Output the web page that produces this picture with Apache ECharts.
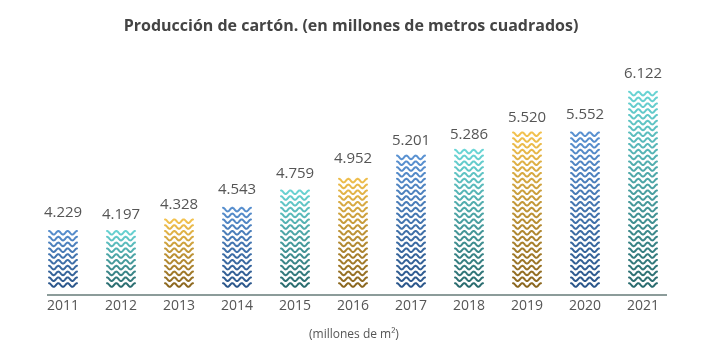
<!DOCTYPE html>
<html lang="es">
<head>
    <meta charset="UTF-8">
    <title>Producción de cartón</title>
    <style>
        *{ margin: 0; padding: 0; }
        body{ background: #fff; }
    </style>
</head>
<body>
<div id="main" style="width: 702px;height: 351px;"></div>
<script src="https://cdn.jsdelivr.net/npm/echarts@6/dist/echarts.min.js"></script>
<script type="text/javascript">
    // datos
    var years = ['2011','2012','2013','2014','2015','2016','2017','2018','2019','2020','2021'];
    var values = [4229, 4197, 4328, 4543, 4759, 4952, 5201, 5286, 5520, 5552, 6122];
    var tones = ['blue','teal','gold','blue','teal','gold','blue','teal','gold','blue','teal'];

    var palette = {
        blue: ['#5a92d2', '#2b568a'],
        teal: ['#6ad6d6', '#2a6b6e'],
        gold: ['#f3c24e', '#8a661f']
    };

    function fmt(v){
        return String(v).replace(/\B(?=(\d{3})+(?!\d))/g, '.');
    }

    var myChart = echarts.init(document.getElementById('main'));

    function renderWaves(params, api){
        var i = api.value(0);
        var v = api.value(1);
        var top = api.coord([i, v]);
        var base = api.coord([i, 3410]);
        var w = 28;
        var x0 = top[0] - w / 2;
        var c = palette[tones[i]];
        var grad = new echarts.graphic.LinearGradient(0, 0, 0, 1, [
            {offset: 0, color: c[0]},
            {offset: 1, color: c[1]}
        ]);
        grad.global = true;
        grad.x = 0; grad.y = top[1]; grad.x2 = 0; grad.y2 = base[1];
        var children = [];
        var gap = 5.8, amp = 1.8, period = 9.33;
        for (var y = base[1] - 2; y >= top[1] + 1.5; y -= gap) {
            var pts = [];
            for (var x = 0; x <= w; x += 0.5) {
                pts.push([x0 + x, y - amp * Math.cos((x / period) * 2 * Math.PI)]);
            }
            children.push({
                type: 'polyline',
                shape: {points: pts, smooth: 0},
                style: {stroke: grad, lineWidth: 2, fill: null, lineJoin: 'round', lineCap: 'round'}
            });
        }
        children.push({
            type: 'text',
            style: {
                text: fmt(v),
                x: top[0],
                y: top[1] - 7,
                align: 'center',
                verticalAlign: 'bottom',
                fill: '#555',
                font: '15px "Open Sans"'
            }
        });
        return {type: 'group', children: children};
    }

    var seriesData = values.map(function(v, i){ return [i, v]; });

    myChart.setOption({
        animation: false,
        title: {
            text: 'Producción de cartón. (en millones de metros cuadrados)',
            left: 'center',
            top: 13,
            textStyle: {
                fontFamily: 'Open Sans',
                fontSize: 16,
                fontWeight: 'bold',
                color: '#444'
            }
        },
        grid: {
            left: 34,
            right: 30,
            top: 60,
            bottom: 64
        },
        xAxis: {
            type: 'category',
            data: years,
            offset: 8,
            axisLine: {show: false},
            axisTick: {show: false},
            axisLabel: {
                margin: 4,
                fontFamily: 'Open Sans',
                fontSize: 14,
                color: '#555'
            }
        },
        yAxis: {
            type: 'value',
            min: 3410,
            max: 6500,
            show: false
        },
        graphic: [
            {
                type: 'line',
                shape: {x1: 47, y1: 295, x2: 667, y2: 295},
                style: {stroke: '#8c9c9a', lineWidth: 2}
            },
            {
                type: 'text',
                left: 309,
                top: 329,
                style: {
                    text: '(millones de m²)',
                    fill: '#555',
                    font: '12px "Open Sans"'
                }
            }
        ],
        series: [
            {
                type: 'custom',
                renderItem: renderWaves,
                encode: {x: 0, y: 1},
                data: seriesData
            }
        ]
    });
</script>
</body>
</html>
